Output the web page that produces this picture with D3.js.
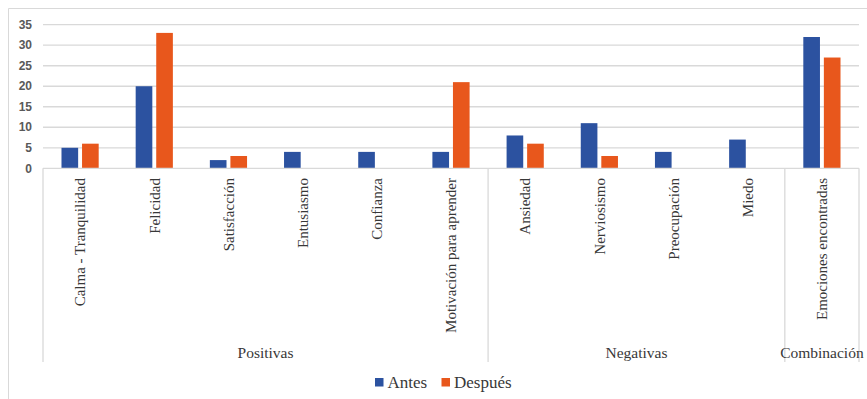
<!DOCTYPE html>
<html>
<head>
<meta charset="utf-8">
<script src="https://cdn.jsdelivr.net/npm/d3@7"></script>
<style>
  body { margin: 0; background: #fff; }
</style>
</head>
<body>
<div id="chart"></div>
<script>
// data
const categories = ["Calma - Tranquilidad", "Felicidad", "Satisfacción", "Entusiasmo", "Confianza",
    "Motivación para aprender", "Ansiedad", "Nerviosismo", "Preocupación", "Miedo", "Emociones encontradas"];
const groups = [
    { name: "Positivas", count: 6 },
    { name: "Negativas", count: 4 },
    { name: "Combinación", count: 1 }
];
const antes = [5, 20, 2, 4, 4, 4, 8, 11, 4, 7, 32];
const despues = [6, 33, 3, 0, 0, 21, 6, 3, 0, 0, 27];
const seriesNames = ["Antes", "Después"];
const yTicks = [0, 5, 10, 15, 20, 25, 30, 35];

const colors = ["#2c52a0", "#e8571c"];
const serif = "'Liberation Serif', 'DejaVu Serif', 'Times New Roman', serif";

const W = 867, H = 399;
const plot = { left: 43, right: 859, top: 24.7, bottom: 168.3 };
const axisBottom = 362;

const svg = d3.select("#chart").append("svg")
    .attr("width", W)
    .attr("height", H);

// outer frame (top and left only visible)
svg.append("path")
    .attr("d", `M8.5,${H} V8.5 H${W}`)
    .attr("fill", "none")
    .attr("stroke", "#d9d9d9")
    .attr("stroke-width", 1);

// scales
const x = d3.scaleBand()
    .domain(categories)
    .range([plot.left, plot.right])
    .paddingInner(0)
    .paddingOuter(0);

const xInner = d3.scaleBand()
    .domain(seriesNames)
    .range([0, x.bandwidth()])
    .paddingInner(0.19)
    .paddingOuter(0.9);

const y = d3.scaleLinear()
    .domain([0, 35])
    .range([plot.bottom, plot.top]);

// gridlines
svg.append("g")
    .selectAll("line")
    .data(yTicks.filter(d => d > 0))
    .join("line")
    .attr("x1", plot.left)
    .attr("x2", plot.right)
    .attr("y1", d => y(d))
    .attr("y2", d => y(d))
    .attr("stroke", "#d9d9d9")
    .attr("stroke-width", 1.3);

// y axis labels
svg.append("g")
    .selectAll("text")
    .data(yTicks)
    .join("text")
    .attr("x", 32)
    .attr("y", d => y(d))
    .attr("dy", "0.35em")
    .attr("text-anchor", "end")
    .style("font-family", "'Liberation Sans', Arial, sans-serif")
    .style("font-size", "12px")
    .style("font-weight", "bold")
    .attr("fill", "#595959")
    .text(d => d);

// bars
const rows = categories.map((c, i) => ({ cat: c, values: [antes[i], despues[i]] }));
const catG = svg.append("g")
    .selectAll("g")
    .data(rows)
    .join("g")
    .attr("transform", d => `translate(${x(d.cat)},0)`);

catG.selectAll("rect")
    .data(d => d.values.map((v, j) => ({ key: seriesNames[j], value: v, j })))
    .join("rect")
    .attr("x", d => xInner(d.key))
    .attr("width", xInner.bandwidth())
    .attr("y", d => y(d.value))
    .attr("height", d => y(0) - y(d.value))
    .attr("fill", d => colors[d.j]);

// category axis line
svg.append("line")
    .attr("x1", plot.left)
    .attr("x2", plot.right)
    .attr("y1", plot.bottom)
    .attr("y2", plot.bottom)
    .attr("stroke", "#d9d9d9")
    .attr("stroke-width", 1.3);

// group separators
let acc = 0;
const bounds = [0];
groups.forEach(g => { acc += g.count; bounds.push(acc); });
const edgeX = i => i < categories.length ? x(categories[i]) : plot.right;

svg.append("g")
    .selectAll("line")
    .data(bounds)
    .join("line")
    .attr("x1", d => edgeX(d))
    .attr("x2", d => edgeX(d))
    .attr("y1", plot.bottom)
    .attr("y2", axisBottom)
    .attr("stroke", "#d9d9d9")
    .attr("stroke-width", 1.3);

// category labels
svg.append("g")
    .selectAll("text")
    .data(categories)
    .join("text")
    .attr("transform", d => `translate(${x(d) + x.bandwidth() / 2},178) rotate(-90)`)
    .attr("dy", "0.35em")
    .attr("text-anchor", "end")
    .style("font-family", serif)
    .style("font-size", "15px")
    .attr("fill", "#383838")
    .text(d => d);

// group labels
svg.append("g")
    .selectAll("text")
    .data(groups.map((g, i) => ({ name: g.name, x0: edgeX(bounds[i]), x1: edgeX(bounds[i + 1]) })))
    .join("text")
    .attr("x", d => (d.x0 + d.x1) / 2)
    .attr("y", 358)
    .attr("text-anchor", "middle")
    .style("font-family", serif)
    .style("font-size", "15.5px")
    .attr("fill", "#383838")
    .text(d => d.name);

// legend
const legend = svg.append("g");
const legendX = [375, 441.5];
seriesNames.forEach((name, i) => {
    legend.append("rect")
        .attr("x", legendX[i])
        .attr("y", 378)
        .attr("width", 8.5)
        .attr("height", 8.5)
        .attr("fill", colors[i]);
    legend.append("text")
        .attr("x", legendX[i] + 12.5)
        .attr("y", 387.5)
        .style("font-family", serif)
        .style("font-size", "17px")
        .attr("fill", "#383838")
        .text(name);
});
</script>
</body>
</html>
